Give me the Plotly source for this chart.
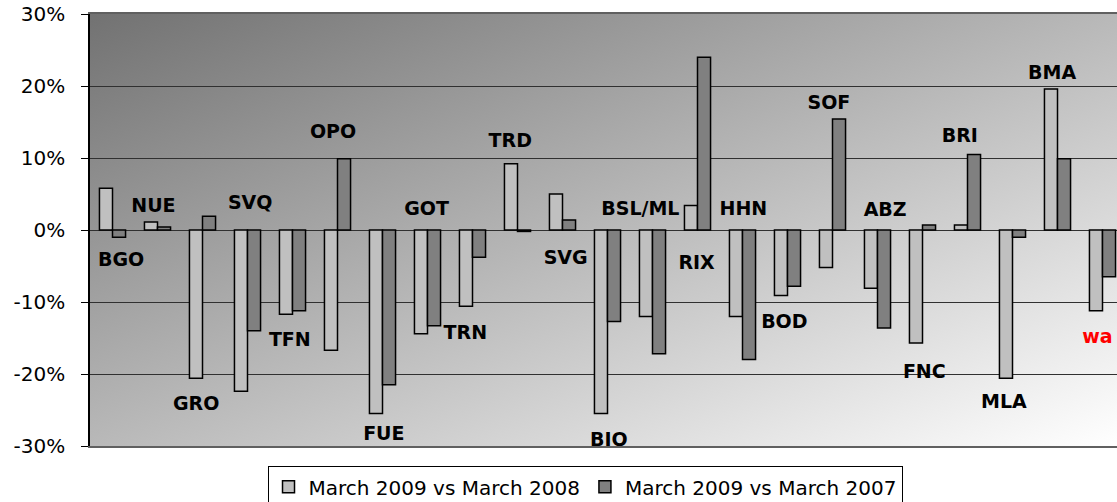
import base64
import plotly.graph_objects as go

# ---------------- data ----------------
categories = ["BGO", "NUE", "GRO", "SVQ", "TFN", "OPO", "FUE", "GOT", "TRN", "TRD",
              "SVG", "BIO", "BSL/ML", "RIX", "HHN", "BOD", "SOF", "ABZ", "FNC", "BRI",
              "MLA", "BMA", "wa"]
series_names = ["March 2009 vs March 2008", "March 2009 vs March 2007"]
vs_2008 = [5.8, 1.1, -20.6, -22.4, -11.7, -16.7, -25.5, -14.4, -10.6, 9.2,
           5.0, -25.5, -12.0, 3.4, -12.0, -9.1, -5.2, -8.1, -15.7, 0.7,
           -20.6, 19.6, -11.2]
vs_2007 = [-1.0, 0.4, 1.9, -14.0, -11.2, 9.9, -21.5, -13.3, -3.8, -0.2,
           1.4, -12.7, -17.2, 24.0, -18.0, -7.8, 15.4, -13.6, 0.7, 10.5,
           -1.0, 9.9, -6.5]
tick_values = [30, 20, 10, 0, -10, -20, -30]
tick_labels = ["30%", "20%", "10%", "0%", "-10%", "-20%", "-30%"]

# label placement (offset from category centre, and height in %)
label_dx = [0.19, -0.09, -0.14, 0.06, -0.06, -0.10, 0.03, -0.02, -0.16, -0.16,
            0.07, 0.03, -0.27, -0.02, 0.02, -0.07, -0.08, 0.17, 0.04, -0.17,
            -0.19, -0.12, -0.45]
label_y = [-4.4, 3.2, -24.4, 3.6, -15.4, 13.4, -28.5, 2.7, -14.5, 12.2,
           -4.1, -29.4, 2.7, -4.7, 2.7, -13.0, 17.5, 2.6, -19.9, 12.9,
           -24.1, 21.6, -15.1]

# ---------------- styles ----------------
LIGHT = "#c0c0c0"
DARK = "#808080"
FONT = "DejaVu Sans"

xs = list(range(len(categories)))
fig = go.Figure()
fig.add_trace(go.Bar(x=xs, y=vs_2008, name=series_names[0],
                     marker=dict(color=LIGHT, line=dict(color="black", width=1.5))))
fig.add_trace(go.Bar(x=xs, y=vs_2007, name=series_names[1],
                     marker=dict(color=DARK, line=dict(color="black", width=1.5))))

n = len(categories)
fig.add_trace(go.Scatter(
    x=[i + label_dx[i] for i in range(n)], y=label_y,
    text=[f"<b>{c}</b>" for c in categories],
    mode="text",
    textposition=["middle center"] * (n - 1) + ["middle right"],
    textfont=dict(family=FONT, size=19,
                  color=["black"] * (n - 1) + ["#ff0000"]),
    cliponaxis=False, showlegend=False, hoverinfo="skip",
))

svg = ("<svg xmlns='http://www.w3.org/2000/svg' width='200' height='100' viewBox='0 0 200 100' "
       "preserveAspectRatio='none'><defs><linearGradient id='g' x1='0' y1='0' x2='1' y2='1'>"
       "<stop offset='0' stop-color='#727272'/><stop offset='1' stop-color='#ffffff'/>"
       "</linearGradient></defs><rect width='200' height='100' fill='url(#g)'/></svg>")
src = "data:image/svg+xml;base64," + base64.b64encode(svg.encode()).decode()

fig.update_layout(
    width=1117, height=502,
    margin=dict(l=90, r=0, t=14, b=56, autoexpand=False),
    paper_bgcolor="white", plot_bgcolor="rgba(0,0,0,0)",
    barmode="group", bargap=0.42, bargroupgap=0,
    font=dict(family=FONT, color="black"),
    showlegend=True,
    legend=dict(orientation="h", x=0.482, xanchor="center", y=-0.047, yanchor="top",
                bgcolor="white", bordercolor="black", borderwidth=1,
                font=dict(family=FONT, size=20, color="black"), traceorder="normal"),
    images=[dict(source=src, xref="paper", yref="paper", x=0, y=1, sizex=1, sizey=1,
                 xanchor="left", yanchor="top", sizing="stretch", layer="below")],
)
fig.update_xaxes(range=[-0.5, n - 0.5 - 8 / 45], showticklabels=False,
                 showgrid=False, zeroline=False, showline=True, mirror=True,
                 linecolor="#606060", linewidth=1.5, ticks="")
fig.update_yaxes(range=[-30, 30], tickvals=tick_values, ticktext=tick_labels,
                 showgrid=True, gridcolor="#303030", gridwidth=1,
                 zeroline=True, zerolinecolor="#303030", zerolinewidth=1,
                 showline=True, linecolor="black", linewidth=1.5,
                 ticks="outside", ticklen=7, tickcolor="black", tickwidth=1,
                 ticklabelstandoff=12,
                 tickfont=dict(family=FONT, size=20, color="black"))

fig.write_html("out.html", config={"displayModeBar": False},
               post_script="document.body.style.margin='0';document.body.style.overflow='hidden';")
